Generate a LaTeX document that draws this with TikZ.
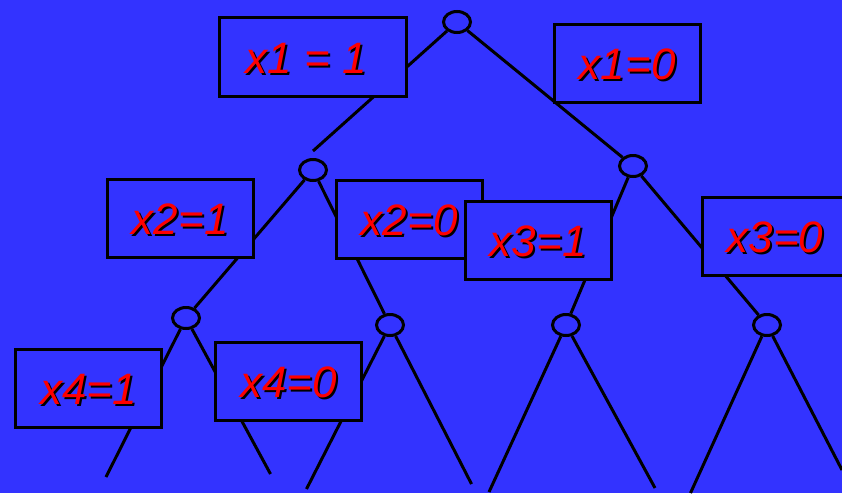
\documentclass[tikz,border=0pt]{standalone}
\usepackage{fontspec}
\setmainfont{Liberation Sans}
\usetikzlibrary{shapes.geometric}
\definecolor{bg}{RGB}{51,51,255}
\newcommand\shtxt[1]{\makebox[0pt][l]{\hspace*{2pt}\raisebox{-2pt}{\color{black}#1}}{\color{red}#1}}
\begin{document}
\begin{tikzpicture}[x=1pt,y=-1pt,
  vtx/.style={ellipse, draw=black, fill=bg, line width=3pt, minimum width=27pt, minimum height=21pt, inner sep=0pt},
  edge/.style={draw=black, line width=3pt},
  box/.style={rectangle, draw=black, fill=bg, line width=3pt, inner sep=0pt, minimum width=146pt, minimum height=78pt},
  lbl/.style={inner sep=0pt, font=\fontsize{44}{44}\selectfont\itshape}]
\fill[bg] (0,0) rectangle (842,493);
\useasboundingbox (0,0) rectangle (842,493);
% vertices
\node[vtx] (r) at (457,22) {};
\node[vtx] (n2) at (313,170) {};
\node[vtx] (n3) at (633,166) {};
\node[vtx] (n4) at (186,318) {};
\node[vtx] (n5) at (390,325) {};
\node[vtx] (n6) at (566,325) {};
\node[vtx] (n7) at (767,325) {};
\coordinate (c1) at (313,151);
\coordinate (l1) at (106,477);
\coordinate (l2) at (270.5,474);
\coordinate (l3) at (306.5,489);
\coordinate (l4) at (471.5,484);
\coordinate (l5) at (489,492);
\coordinate (l6) at (655,488);
\coordinate (l7) at (690.5,493);
\coordinate (l8) at (842,470);
% edges
\draw[edge] (r) -- (c1);
\draw[edge] (r) -- (n3);
\draw[edge] (n2) -- (n4);
\draw[edge] (n2) -- (n5);
\draw[edge] (n3) -- (n6);
\draw[edge] (n3) -- (n7);
\draw[edge] (n4) -- (l1);
\draw[edge] (n4) -- (l2);
\draw[edge] (n5) -- (l3);
\draw[edge] (n5) -- (l4);
\draw[edge] (n6) -- (l5);
\draw[edge] (n6) -- (l6);
\draw[edge] (n7) -- (l7);
\draw[edge] (n7) -- (l8);
% boxes
\node[box, minimum width=187pt, minimum height=79pt] (b11) at (313,57) {};
\node[lbl] (t11) at ([xshift=-7pt,yshift=-2pt]b11.center) {\shtxt{x1 = 1}};
\node[box] (b10) at (627.2,63.7) {};
\node[lbl] (t10) at ([yshift=-2pt]b10.center) {\shtxt{x1=0}};
\node[box] (b21) at (180.2,218.3) {};
\node[lbl] (t21) at ([yshift=-2pt]b21.center) {\shtxt{x2=1}};
\node[box] (b20) at (409.2,219.2) {};
\node[lbl] (t20) at ([yshift=-2pt]b20.center) {\shtxt{x2=0}};
\node[box] (b31) at (538.3,240.3) {};
\node[lbl] (t31) at ([yshift=-2pt]b31.center) {\shtxt{x3=1}};
\node[box] (b30) at (775,236.7) {};
\node[lbl] (t30) at ([yshift=-2pt]b30.center) {\shtxt{x3=0}};
\node[box] (b41) at (88.8,388.3) {};
\node[lbl] (t41) at ([yshift=-2pt]b41.center) {\shtxt{x4=1}};
\node[box] (b40) at (288.5,381.2) {};
\node[lbl] (t40) at ([yshift=-2pt]b40.center) {\shtxt{x4=0}};
\end{tikzpicture}
\end{document}
